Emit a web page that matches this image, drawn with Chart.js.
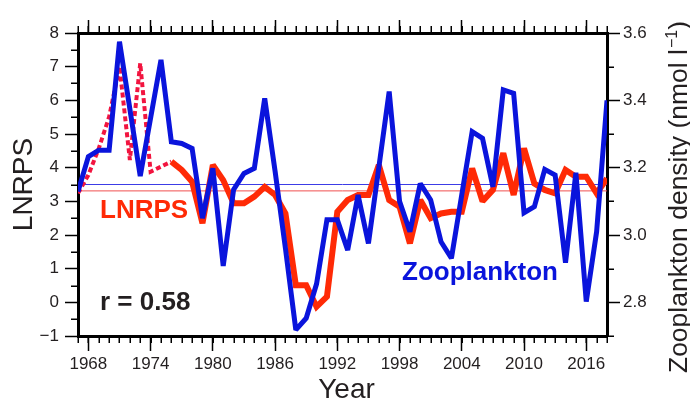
<!DOCTYPE html>
<html>
<head>
<meta charset="utf-8">
<script src="https://cdn.jsdelivr.net/npm/chart.js@4.4.1/dist/chart.umd.min.js"></script>
<style>
  html, body { margin: 0; padding: 0; background: #fff; }
  #wrap { width: 690px; height: 403px; position: relative; }
</style>
</head>
<body>
<div id="wrap"><canvas id="chart" width="690" height="403"></canvas></div>
<script>
// Annual series, 1967-2018
const years = [1967, 1968, 1969, 1970, 1971, 1972, 1973, 1974, 1975, 1976,
  1977, 1978, 1979, 1980, 1981, 1982, 1983, 1984, 1985, 1986,
  1987, 1988, 1989, 1990, 1991, 1992, 1993, 1994, 1995, 1996,
  1997, 1998, 1999, 2000, 2001, 2002, 2003, 2004, 2005, 2006,
  2007, 2008, 2009, 2010, 2011, 2012, 2013, 2014, 2015, 2016,
  2017, 2018];

// Zooplankton density (nmol l-1); null = no sample that year
const zooplankton = [3.129, 3.233, 3.252, 3.252, 3.574, null, 3.175, null, 3.520, 3.277,
  3.272, 3.257, 3.050, 3.198, 2.908, 3.135, 3.183, 3.198, 3.406, 3.190,
  2.960, 2.718, 2.753, 2.855, 3.045, 3.045, 2.955, 3.119, 2.975, 3.200,
  3.426, 3.100, 3.010, 3.153, 3.104, 2.980, 2.931, 3.120, 3.307, 3.287,
  3.143, 3.431, 3.421, 3.066, 3.084, 3.195, 3.178, 2.918, 3.185, 2.802,
  3.010, 3.400];

// LNRPS, early reconstructed part (1967-1976)
const lnrpsEarlyYears = years.slice(0, 10);
const lnrpsEarly = [3.24, 3.78, 4.57, 5.51, 7.0, 4.23, 7.1, 3.88, 4.03, 4.18];

// LNRPS, observed part (1976-2018)
const lnrpsYears = years.slice(9);
const lnrps = [4.18, 3.93, 3.58, 2.35, 4.08, 3.63, 2.94, 2.94, 3.14, 3.43,
  3.19, 2.64, 0.51, 0.51, -0.13, 0.17, 2.69, 3.04, 3.19, 3.19,
  4.08, 3.04, 2.84, 1.75, 3.04, 2.50, 2.64, 2.69, 2.69, 3.98,
  3.00, 3.34, 4.43, 3.19, 4.57, 3.53, 3.34, 3.24, 3.93, 3.73,
  3.73, 3.24, 3.68];

// Long-term means
const lnrpsMean = 3.31;
const zooMean = 3.15;

// Axis ticks
const yearTicks = [1968, 1974, 1980, 1986, 1992, 1998, 2004, 2010, 2016];
const lnrpsTicks = [-1, 0, 1, 2, 3, 4, 5, 6, 7, 8];
const zooTicks = [2.8, 3.0, 3.2, 3.4, 3.6];
const yearMinor = years;
const lnrpsMinor = [-0.5, 0.5, 1.5, 2.5, 3.5, 4.5, 5.5, 6.5, 7.5];
const zooMinor = [2.7, 2.9, 3.1, 3.3, 3.5];

const FONT = '"Liberation Sans", Arial, Helvetica, sans-serif';
const INK = '#231f20';
const BLUE = '#0a14dc';
const RED = '#ff2a06';
const PINK = '#f2143f';

const pts = (xs, ys) => xs.map((x, i) => ({ x, y: ys[i] }));
const xMin = years[0], xMax = years[years.length - 1];

// keep sharp peaks from spiking far past their vertices
const joins = {
  id: 'joins',
  beforeDatasetsDraw(chart) { chart.ctx.miterLimit = 2; }
};

const minorTicks = {
  id: 'minorTicks',
  afterDraw(chart) {
    const { ctx, chartArea: a, scales } = chart;
    const L = 7;
    ctx.save();
    ctx.strokeStyle = '#000';
    ctx.lineWidth = 1.5;
    ctx.beginPath();
    yearMinor.forEach(v => {
      const p = Math.round(scales.x.getPixelForValue(v)) + 0.25;
      ctx.moveTo(p, a.bottom); ctx.lineTo(p, a.bottom + L);
      ctx.moveTo(p, a.top); ctx.lineTo(p, a.top - L);
    });
    lnrpsMinor.forEach(v => {
      const p = Math.round(scales.yL.getPixelForValue(v)) + 0.25;
      ctx.moveTo(a.left, p); ctx.lineTo(a.left - L, p);
    });
    zooMinor.forEach(v => {
      const p = Math.round(scales.yR.getPixelForValue(v)) + 0.25;
      ctx.moveTo(a.right, p); ctx.lineTo(a.right + L, p);
    });
    ctx.stroke();
    ctx.restore();
  }
};

const labels = {
  id: 'labels',
  afterDraw(chart) {
    const { ctx, chartArea: a } = chart;
    ctx.save();
    ctx.textBaseline = 'alphabetic';
    // in-plot annotations
    ctx.font = 'bold 26px ' + FONT;
    ctx.textAlign = 'left';
    ctx.fillStyle = RED;
    ctx.fillText('LNRPS', 100, 218);
    ctx.fillStyle = BLUE;
    ctx.fillText('Zooplankton', 402, 280);
    ctx.fillStyle = INK;
    ctx.fillText('r = 0.58', 100, 310);

    // axis titles
    ctx.fillStyle = INK;
    ctx.font = '28px ' + FONT;
    ctx.textAlign = 'center';
    ctx.fillText('Year', (a.left + a.right) / 2 + 4, 398);

    ctx.save();
    ctx.translate(32, (a.top + a.bottom) / 2);
    ctx.rotate(-Math.PI / 2);
    ctx.fillText('LNRPS', 0, 0);
    ctx.restore();

    // right title with superscript unit
    const main = 'Zooplankton density (nmol l';
    const sup = '\u22121';
    const tail = ')';
    const fMain = '26.5px ' + FONT, fSup = '16px ' + FONT;
    ctx.font = fMain; const wMain = ctx.measureText(main).width; const wTail = ctx.measureText(tail).width;
    ctx.font = fSup; const wSup = ctx.measureText(sup).width;
    const total = wMain + wSup + 1 + wTail;
    ctx.save();
    ctx.translate(687, 197);
    ctx.rotate(-Math.PI / 2);
    ctx.textAlign = 'left';
    let x0 = -total / 2;
    ctx.font = fMain; ctx.fillText(main, x0, 0); x0 += wMain + 1;
    ctx.font = fSup; ctx.fillText(sup, x0, -10); x0 += wSup;
    ctx.font = fMain; ctx.fillText(tail, x0, 0);
    ctx.restore();
    ctx.restore();
  }
};

const tickFont = { family: FONT, size: 17 };
const gridStyle = (len) => ({ drawOnChartArea: false, tickLength: len, tickWidth: 1.5, tickColor: '#000' });
const frame = { display: true, width: 3, color: '#000' };
const setTicks = (list) => (scale) => { scale.ticks = list.map(v => ({ value: v })); };

new Chart(document.getElementById('chart'), {
  type: 'line',
  data: {
    datasets: [
      { label: 'Zooplankton', yAxisID: 'yR', data: pts(years, zooplankton), borderColor: BLUE,
        borderWidth: 5, spanGaps: true, pointRadius: 0, borderJoinStyle: 'miter', tension: 0 },
      { label: 'LNRPS', yAxisID: 'yL', data: pts(lnrpsYears, lnrps), borderColor: RED,
        borderWidth: 6, pointRadius: 0, borderJoinStyle: 'miter', tension: 0 },
      { label: 'LNRPS early', yAxisID: 'yL', data: pts(lnrpsEarlyYears, lnrpsEarly), borderColor: PINK,
        borderWidth: 4, borderDash: [5, 3], pointRadius: 0, borderJoinStyle: 'miter', tension: 0 },
      { label: 'Zooplankton mean', yAxisID: 'yR', data: pts([xMin, xMax], [zooMean, zooMean]),
        borderColor: '#3c3ce6', borderWidth: 1, pointRadius: 0 },
      { label: 'LNRPS mean', yAxisID: 'yL', data: pts([xMin, xMax], [lnrpsMean, lnrpsMean]),
        borderColor: '#f05050', borderWidth: 1, pointRadius: 0 }
    ]
  },
  options: {
    responsive: false,
    animation: false,
    devicePixelRatio: 1,
    layout: { padding: 0 },
    plugins: { legend: { display: false }, tooltip: { enabled: false } },
    scales: {
      x: {
        type: 'linear', position: 'bottom', min: xMin, max: xMax,
        afterBuildTicks: setTicks(yearTicks),
        afterFit: (s) => { s.height = 67; },
        ticks: { font: tickFont, color: INK, padding: 3, maxRotation: 0, autoSkip: false, callback: v => String(v) },
        grid: gridStyle(15), border: frame
      },
      xTop: {
        type: 'linear', position: 'top', min: xMin, max: xMax,
        afterBuildTicks: setTicks(yearTicks),
        afterFit: (s) => { s.height = 33; },
        ticks: { display: false },
        grid: gridStyle(13), border: frame
      },
      yL: {
        type: 'linear', position: 'left', min: -1, max: 8,
        afterBuildTicks: setTicks(lnrpsTicks),
        afterFit: (s) => { s.width = 78; },
        ticks: { font: tickFont, color: INK, padding: 6, callback: v => v < 0 ? '\u2212' + Math.abs(v) : String(v) },
        grid: gridStyle(13), border: frame
      },
      yR: {
        type: 'linear', position: 'right', min: 2.7, max: 3.6,
        afterBuildTicks: setTicks(zooTicks),
        afterFit: (s) => { s.width = 83; },
        ticks: { font: tickFont, color: INK, padding: 3, callback: v => Number(v).toFixed(1) },
        grid: gridStyle(13), border: frame
      }
    }
  },
  plugins: [joins, minorTicks, labels]
});
</script>
</body>
</html>
